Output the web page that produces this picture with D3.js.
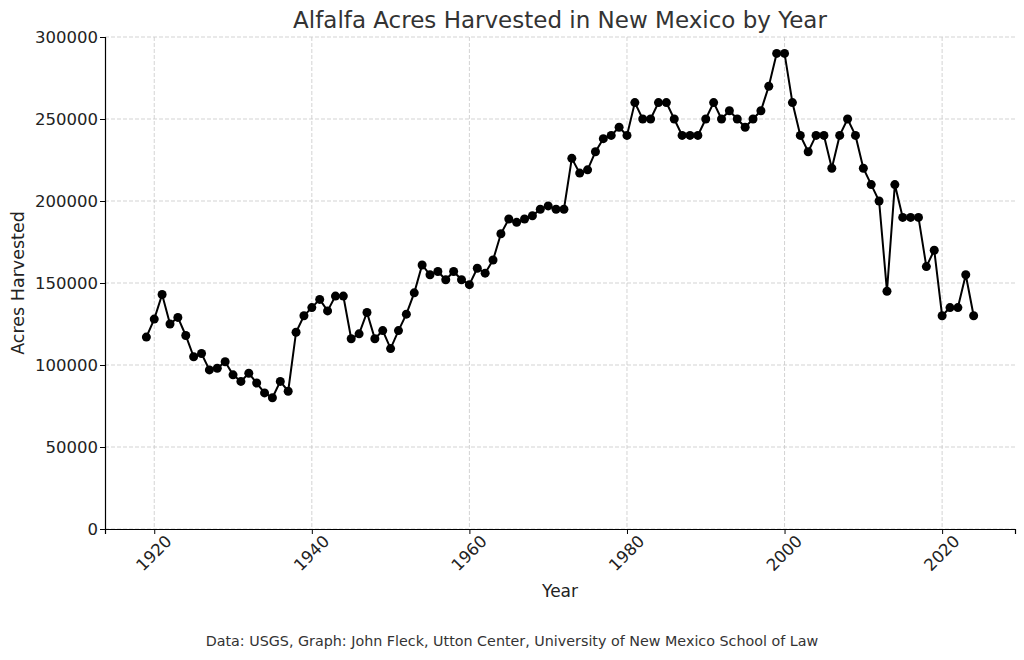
<!DOCTYPE html>
<html><head><meta charset="utf-8">
<script src="https://cdn.jsdelivr.net/npm/d3@7"></script>
<style>body{margin:0;background:#fff;font-family:"DejaVu Sans",sans-serif;}</style>
</head><body>
<svg id="chart" width="1024" height="660"></svg>
<script>
const years = d3.range(1919, 2025);
const acres = [
117000,128000,143000,125000,129000,118000,105000,107000,97000,98000,
102000,94000,90000,95000,89000,83000,80000,90000,84000,120000,
130000,135000,140000,133000,142000,142000,116000,119000,132000,116000,
121000,110000,121000,131000,144000,161000,155000,157000,152000,157000,
152000,149000,159000,156000,164000,180000,189000,187000,189000,191000,
195000,197000,195000,195000,226000,217000,219000,230000,238000,240000,
245000,240000,260000,250000,250000,260000,260000,250000,240000,240000,
240000,250000,260000,250000,255000,250000,245000,250000,255000,270000,
290000,290000,260000,240000,230000,240000,240000,220000,240000,250000,
240000,220000,210000,200000,145000,210000,190000,190000,190000,160000,
170000,130000,135000,135000,155000,130000];
const xTicks = [1920,1940,1960,1980,2000,2020];
const yTicks = [0,50000,100000,150000,200000,250000,300000];
const title = "Alfalfa Acres Harvested in New Mexico by Year";
const xLabel = "Year", yLabel = "Acres Harvested";
const footer = "Data: USGS, Graph: John Fleck, Utton Center, University of New Mexico School of Law";

const data = years.map((y,i)=>({year:y, value:acres[i]}));
const svg = d3.select("#chart");
const L=105, R=1015, T=37, B=529;
const x = d3.scaleLinear().domain([1913.75, 2029.25]).range([L,R]);
const y = d3.scaleLinear().domain([0,300000]).range([B,T]);

// grid
const g = svg.append("g");
g.selectAll(".gx").data(xTicks).join("line")
  .attr("x1",d=>x(d)).attr("x2",d=>x(d)).attr("y1",T).attr("y2",B)
  .attr("stroke","#c8c8c8").attr("stroke-width",0.8).attr("stroke-dasharray","4,2");
g.selectAll(".gy").data(yTicks).join("line")
  .attr("x1",L).attr("x2",R).attr("y1",d=>y(d)).attr("y2",d=>y(d))
  .attr("stroke","#c8c8c8").attr("stroke-width",0.8).attr("stroke-dasharray","4,2");

// axes
const xAxis = svg.append("g").attr("transform",`translate(0,${B})`)
  .call(d3.axisBottom(x).tickValues(xTicks).tickFormat(d3.format("d")).tickSizeOuter(0).tickSize(5));
xAxis.select(".domain").attr("stroke","#000").attr("stroke-width",1.2);
xAxis.selectAll(".tick line").attr("stroke","#000");
xAxis.selectAll(".tick text")
  .attr("font-family","DejaVu Sans").attr("font-size",16.5).attr("fill","#222")
  .attr("text-anchor","middle").attr("dy",null).attr("y",null)
  .attr("transform","translate(0,25) rotate(-45)").attr("dominant-baseline","middle");

const yAxis = svg.append("g").attr("transform",`translate(${L},0)`)
  .call(d3.axisLeft(y).tickValues(yTicks).tickFormat(d3.format("d")).tickSizeOuter(0).tickSize(5));
yAxis.select(".domain").attr("stroke","#000").attr("stroke-width",1.2);
yAxis.selectAll(".tick line").attr("stroke","#000");
yAxis.selectAll(".tick text").attr("font-family","DejaVu Sans").attr("font-size",16.5).attr("fill","#222").attr("x",-7);

// line
svg.append("path").datum(data)
  .attr("fill","none").attr("stroke","#000").attr("stroke-width",2)
  .attr("d", d3.line().x(d=>x(d.year)).y(d=>y(d.value)));
svg.selectAll(".pt").data(data).join("circle")
  .attr("cx",d=>x(d.year)).attr("cy",d=>y(d.value)).attr("r",4.5).attr("fill","#000");

// text
svg.append("text").attr("x",(L+R)/2).attr("y",28).attr("text-anchor","middle")
  .attr("font-size",23).attr("fill","#333").text(title);
svg.append("text").attr("x",(L+R)/2).attr("y",597).attr("text-anchor","middle")
  .attr("font-size",17).attr("fill","#222").text(xLabel);
svg.append("text").attr("transform",`translate(24,${(T+B)/2}) rotate(-90)`).attr("text-anchor","middle")
  .attr("font-size",17.5).attr("fill","#222").text(yLabel);
svg.append("text").attr("x",512).attr("y",646).attr("text-anchor","middle")
  .attr("font-size",14.3).attr("fill","#333").text(footer);
</script>
</body></html>
